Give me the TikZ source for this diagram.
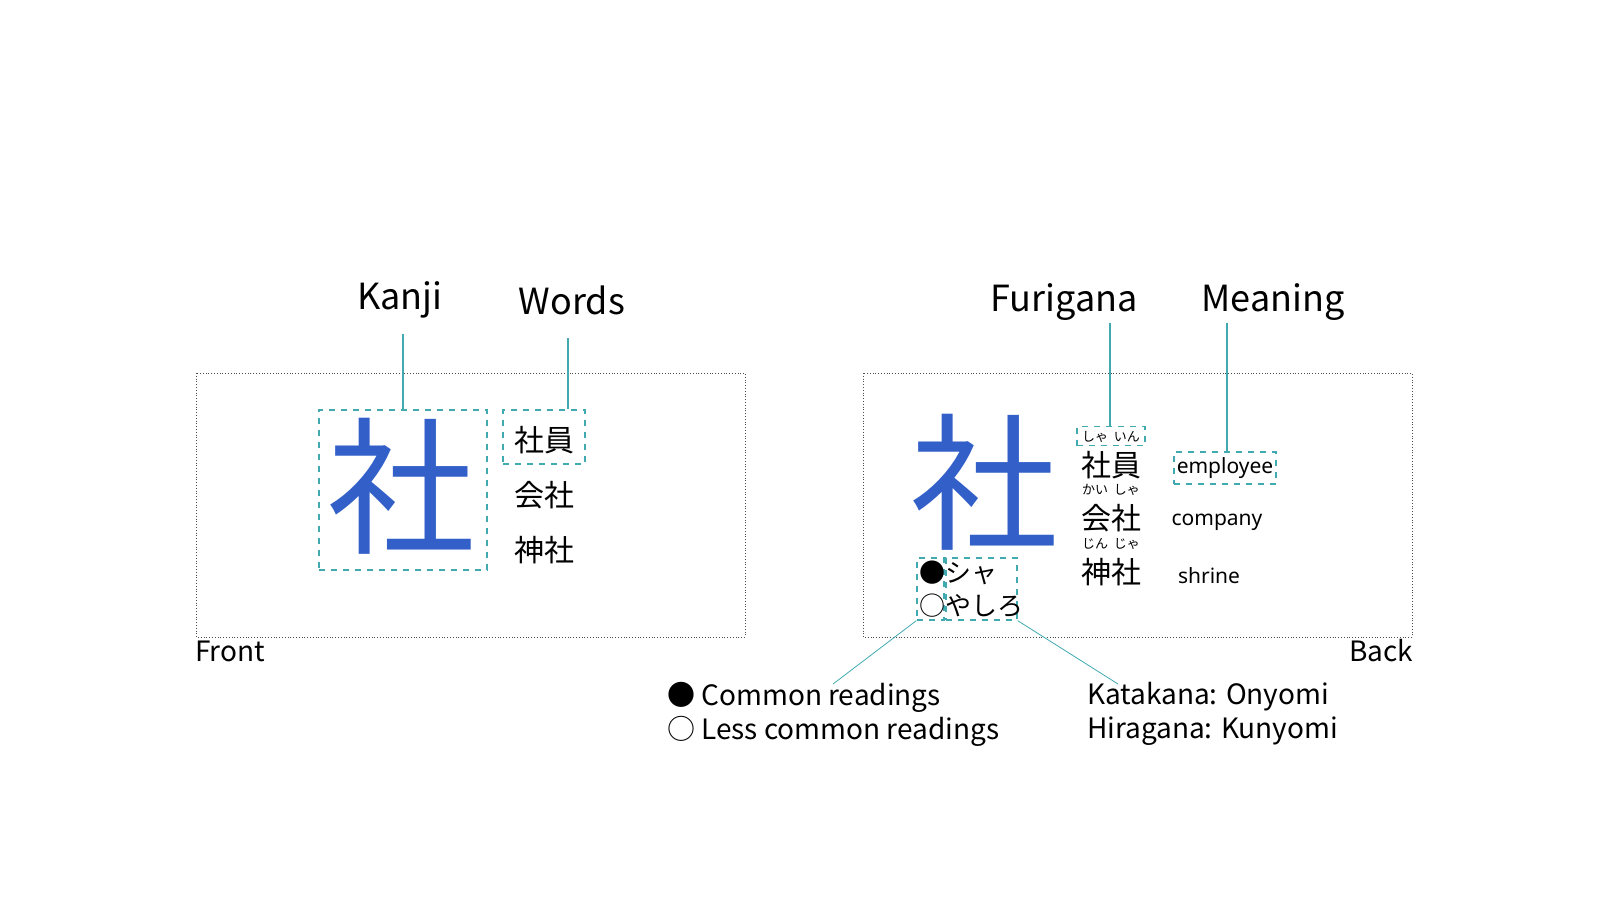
\documentclass[tikz,border=0pt]{standalone}
\usepackage{fontspec}
\setmainfont{Noto Sans}
\newfontfamily\jp{Noto Sans CJK JP}
\definecolor{tealline}{RGB}{64,170,176}
\definecolor{kanjiblue}{RGB}{50,95,200}
\tikzset{
	card/.style={draw=black!70,densely dotted,thin},
	hint/.style={draw=tealline,dashed,semithick,inner sep=0pt},
	lead/.style={draw=tealline,semithick},
	title/.style={font=\jp\fontsize{18}{20}\selectfont},
	word/.style={font=\jp\fontsize{15}{17}\selectfont},
	kana/.style={font=\jp\fontsize{6.5}{7}\selectfont},
	mean/.style={font=\fontsize{10.5}{12}\selectfont},
	legend/.style={font=\jp\fontsize{14}{16}\selectfont,anchor=west}
}
\begin{document}
\begin{tikzpicture}[x=0.5pt,y=-0.5pt]
	\useasboundingbox (0,0) rectangle (1600,900);
	% cards
	\draw[card] (196,373) rectangle (745,637);
	\draw[card] (863,373) rectangle (1412,637);
	\node[legend] (front) at (188,651) {Front};
	\node[legend,anchor=east] (back) at (1420,651) {Back};

	% front side
	\node[hint,minimum width=84pt,minimum height=80pt] (kbox) at (403,490) {};
	\node[font=\jp\fontsize{74}{74}\selectfont,text=kanjiblue] (kanji) at (401,486) {社};
	\node[hint,minimum width=41pt,minimum height=27pt] (wbox) at (544,437) {};
	\node[word] (w1) at (544,440) {社員};
	\node[word] (w2) at (544,495) {会社};
	\node[word] (w3) at (544,550) {神社};
	\node[title] (tkanji) at (400,300) {Kanji};
	\node[title] (twords) at (572,300) {Words};
	\coordinate (ck) at (403,334);
	\coordinate (cw) at (568,338);
	\draw[lead] (ck) -- (kbox.north);
	\draw[lead] (cw) -- (cw |- wbox.north);

	% back side
	\node[font=\jp\fontsize{74}{74}\selectfont,text=kanjiblue] (bkanji) at (984,482) {社};
	\foreach \y/\w/\f in {465/社員/しゃ\ \ いん,518/会社/かい\ \ しゃ,572/神社/じん\ \ じゃ} {
		\node[word] at (1111,\y) {\w};
		\node[kana] at (1111,\y-28) {\f};
	}
	\node[hint,minimum width=34pt,minimum height=9.5pt] (fbox) at (1111,436) {};
	\node[hint,minimum width=51pt,minimum height=16pt] (mbox) at (1225,468) {};
	\node[mean] (m1) at (1225,468) {employee};
	\node[mean] (m2) at (1217,522) {company};
	\node[mean] (m3) at (1209,576) {shrine};
	\node[title] (tfuri) at (1064,302) {Furigana};
	\node[title] (tmean) at (1273,302) {Meaning};
	\coordinate (cf) at (1110,323);
	\coordinate (cm) at (1227,323);
	\draw[lead] (cf) -- (cf |- fbox.north);
	\draw[lead] (cm) -- (cm |- mbox.north);

	% readings
	\node[hint,minimum width=13.5pt,minimum height=31pt] (dbox) at (930.5,589) {};
	\node[hint,minimum width=35.5pt,minimum height=31pt] (rbox) at (981.5,589) {};
	\node[font=\jp\fontsize{13}{15}\selectfont,anchor=west,inner sep=0pt] (r1) at (919,573) {●シャ};
	\node[font=\jp\fontsize{13}{15}\selectfont,anchor=west,inner sep=0pt] (r2) at (919,606) {○やしろ};
	\node[legend] (l1) at (660,697) {● Common readings};
	\node[legend] (l2) at (660,731) {○ Less common readings};
	\node[legend] (l3) at (1080,697) {Katakana: Onyomi};
	\node[legend] (l4) at (1080,731) {Hiragana: Kunyomi};
	\coordinate (cl) at (833,684);
	\coordinate (cr) at (1118,684);
	\draw[lead,thin] (dbox.south west) -- (cl);
	\draw[lead,thin] (rbox.south east) -- (cr);
\end{tikzpicture}
\end{document}
